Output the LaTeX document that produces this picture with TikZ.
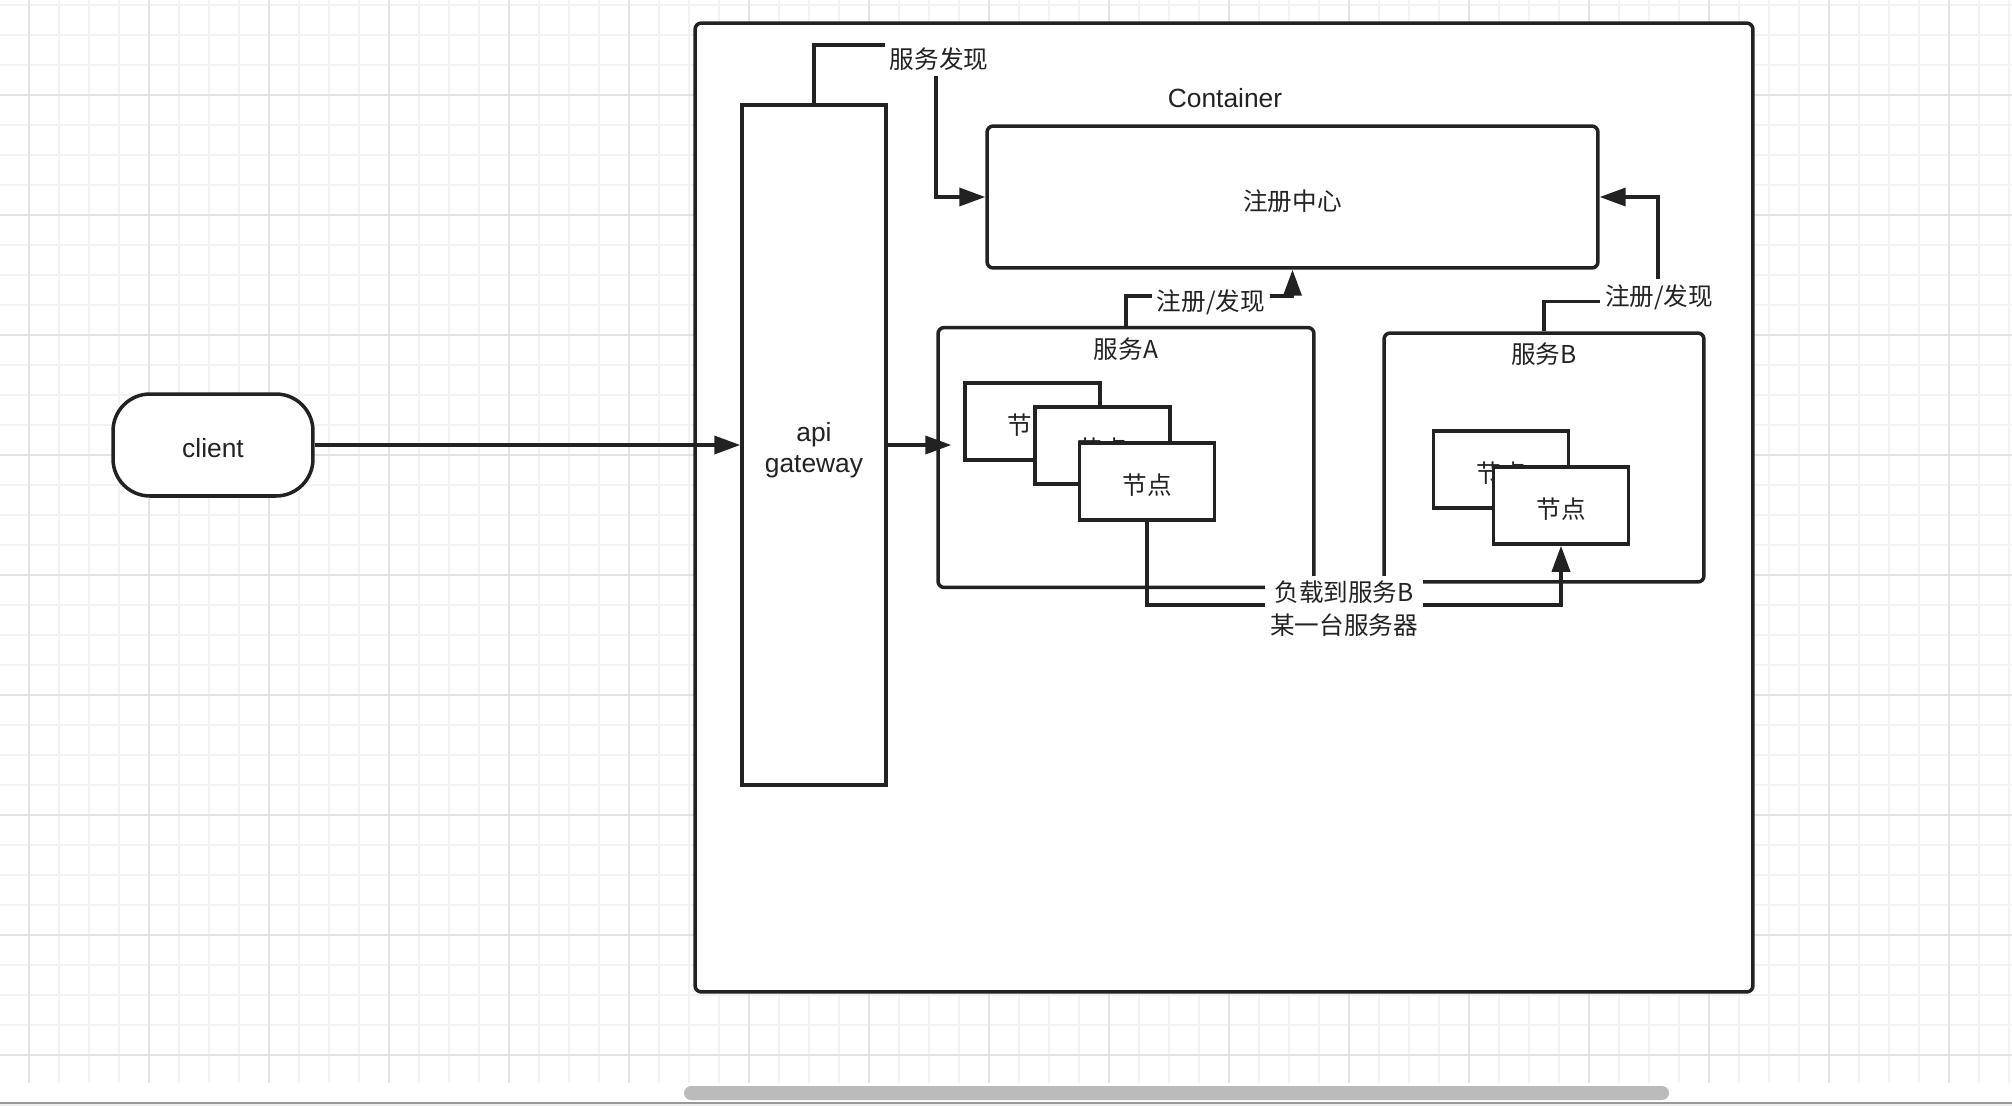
\documentclass[tikz,border=0pt]{standalone}
\usepackage{fontspec}
\setmainfont{Liberation Sans}
\newfontfamily\cjk{Noto Sans CJK SC}
\usepackage{tikz}
\usetikzlibrary{arrows.meta,calc}
\definecolor{diagink}{HTML}{222222}
\definecolor{gridminor}{HTML}{F2F2F2}
\definecolor{gridmajor}{HTML}{E3E3E3}
\definecolor{barfill}{HTML}{BBBBBB}
\definecolor{edgegray}{HTML}{999999}
\definecolor{panelgray}{HTML}{EEEEEE}

\begin{document}
\begin{tikzpicture}[
  x=0.02cm, y=-0.02cm,
  box/.style={draw=diagink,line width=2pt,fill=white,inner sep=0pt,text=diagink,font=\fontsize{15}{18}\selectfont,align=center},
  group/.style={box,rounded corners=3.5pt},
  instance/.style={box,minimum width=2.7cm,minimum height=1.54cm,text height=15.6pt,text depth=0.4pt,font=\cjk\fontsize{14}{18}\selectfont},
  caption/.style={text=diagink,inner sep=0pt,font=\cjk\fontsize{14}{18}\selectfont},
  plaintext/.style={text=diagink,inner sep=0pt,align=center,font=\fontsize{15}{18}\selectfont},
  flowlabel/.style={fill=white,text=diagink,inner sep=3pt,align=center,font=\cjk\fontsize{14}{18.8}\selectfont},
  arrow/.style={-{Triangle[length=0.52cm,width=0.36cm]},line width=2pt,draw=diagink},
  gridline/.style={draw=gridminor,line width=0.8pt},
  gridline major/.style={draw=gridmajor,line width=0.8pt}
]
\useasboundingbox (0,0) rectangle (2012,1106);
\fill[white] (0,0) rectangle (2012,1106);
\foreach \gx in {29,59,...,2009} \draw[gridline] (\gx,0) -- (\gx,1083);
\foreach \gy in {5,35,...,1055} \draw[gridline] (0,\gy) -- (2012,\gy);
\foreach \gx in {29,149,...,1949} \draw[gridline major] (\gx,0) -- (\gx,1083);
\foreach \gy in {95,215,...,1055} \draw[gridline major] (0,\gy) -- (2012,\gy);
\fill[barfill,rounded corners=0.14cm] (684,1086) rectangle (1669,1100);
\fill[edgegray] (0,1102) rectangle (2012,1104);
\fill[panelgray] (0,1104) rectangle (2012,1106);

\node[box,rounded corners=0.74cm,minimum width=4cm,minimum height=2.04cm] (client) at (213,445) {};
\node[plaintext] (clienttext) at ([yshift=-0.07cm]client.center) {client};

\node[group,minimum width=21.16cm,minimum height=19.38cm] (container) at (1224,507.5) {};
\node[plaintext] (containertitle) at (1225,98) {Container};
\node[box,minimum width=2.88cm,minimum height=13.6cm] (gateway) at (814,445) {};
\node[plaintext] (gatewaytext) at ([yshift=-0.1cm]gateway.center) {api\\gateway};
\node[group,minimum width=12.22cm,minimum height=2.84cm,text height=15.6pt,text depth=0.4pt,font=\cjk\fontsize{14}{18}\selectfont] (registry) at (1292.5,197) {注册中心};

\node[group,minimum width=7.52cm,minimum height=5.2cm] (svcA) at (1126,457.5) {};
\node[caption] (svcAtitle) at ([yshift=-0.46cm]svcA.north) {服务A};
\node[instance] (nodeA1) at (1032.5,421.5) {节点};
\node[instance] (nodeA2) at (1102.5,445.5) {节点};
\node[instance] (nodeA3) at (1147,481.5) {节点};

\node[group,minimum width=6.4cm,minimum height=4.98cm] (svcB) at (1544,457.5) {};
\node[caption] (svcBtitle) at ([yshift=-0.46cm]svcB.north) {服务B};
\node[instance] (nodeB1) at (1501,469.5) {节点};
\node[instance] (nodeB2) at (1561,505.5) {节点};

\coordinate (discbend) at (936,45);
\coordinate (regBbend) at (1658,197);
\draw[arrow] (client.east) -- (gateway.west);
\draw[arrow] (gateway.east) -- ($(svcA.west |- gateway.east)+(15,0)$);
\draw[arrow] (gateway.north) |- (discbend) |- (registry.west);
\draw[arrow] (svcA.north) -- ++(0,-30) -| (registry.south);
\draw[arrow] (svcB.north) -- ++(0,-30) -| (regBbend) -- (registry.east);
\draw[arrow] (nodeA3.south) -- ++(0,83) -| (nodeB2.south);

\node[flowlabel] (disclabel) at (939,59) {服务发现};
\node[flowlabel] (regAlabel) at (1211,302) {注册/发现};
\node[flowlabel] (regBlabel) at (1659,297) {注册/发现};
\node[flowlabel] (loadlabel) at (1344,609) {负载到服务B\\某一台服务器};
\end{tikzpicture}
\end{document}
